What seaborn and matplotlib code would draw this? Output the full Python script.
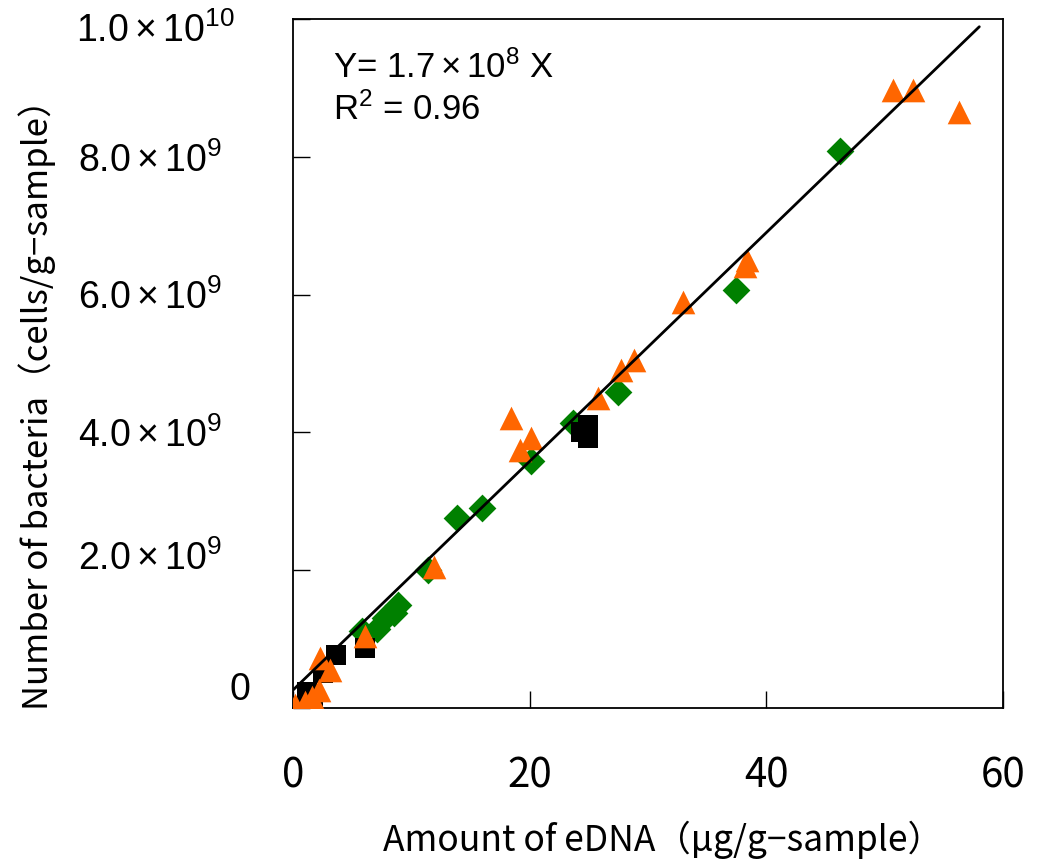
import matplotlib
matplotlib.use('Agg')
import matplotlib.pyplot as plt
import matplotlib.transforms as mtransforms
import seaborn as sns
import numpy as np
import pandas as pd

# eDNA (ug/g-sample) vs bacteria (cells/g-sample), three sample groups
tri_x = [52.4, 50.7, 56.3, 38.4, 38.2, 33.0, 28.8, 27.7, 25.8, 18.4, 20.1, 19.2,
         11.9, 6.1, 2.3, 3.1, 2.2, 1.6, 1.0, 0.2]
tri_y = [8.97e9, 8.97e9, 8.65e9, 6.50e9, 6.41e9, 5.89e9, 5.05e9, 4.91e9, 4.50e9,
         4.21e9, 3.92e9, 3.74e9, 2.05e9, 1.05e9, 0.73e9, 0.55e9, 0.26e9, 0.16e9,
         0.09e9, 0.04e9]

dia_x = [46.2, 37.4, 27.5, 23.7, 20.1, 16.0, 13.9, 11.4, 8.9, 8.5, 7.8, 7.1, 5.8]
dia_y = [8.09e9, 6.07e9, 4.59e9, 4.13e9, 3.58e9, 2.91e9, 2.76e9, 2.01e9, 1.50e9,
         1.38e9, 1.30e9, 1.15e9, 1.12e9]

sq_x = [24.9, 24.3, 24.9, 3.6, 2.5, 6.1, 0.0, 1.7, 1.2]
sq_y = [4.11e9, 4.01e9, 3.92e9, 0.77e9, 0.51e9, 0.87e9, 0.02e9, 0.09e9, 0.23e9]

fit_slope = 1.66e8
fit_intercept = 2.6e8
fit_range = [0, 58]

x_ticks = [0, 20, 40, 60]
y_ticks = [0, 2e9, 4e9, 6e9, 8e9, 1e10]
y_tick_labels = ['0',
                 r'$\mathregular{2.0\times10^{9}}$',
                 r'$\mathregular{4.0\times10^{9}}$',
                 r'$\mathregular{6.0\times10^{9}}$',
                 r'$\mathregular{8.0\times10^{9}}$',
                 r'$\mathregular{1.0\times10^{10}}$']

sns.set_theme(style='white')
plt.rcParams['font.family'] = ['Liberation Sans', 'DejaVu Sans']
plt.rcParams['mathtext.fontset'] = 'custom'
plt.rcParams['mathtext.rm'] = 'Liberation Sans'
plt.rcParams['mathtext.it'] = 'Liberation Sans:italic'
plt.rcParams['mathtext.bf'] = 'Liberation Sans:bold'
plt.rcParams['text.color'] = 'black'
plt.rcParams['xtick.color'] = 'black'
plt.rcParams['ytick.color'] = 'black'
plt.rcParams['axes.labelcolor'] = 'black'

cjk = ['Noto Sans CJK JP', 'DejaVu Sans']

df_dia = pd.DataFrame({'x': dia_x, 'y': dia_y})
df_sq = pd.DataFrame({'x': sq_x, 'y': sq_y})
df_tri = pd.DataFrame({'x': tri_x, 'y': tri_y})
fit_x = np.array(fit_range, dtype=float)
df_fit = pd.DataFrame({'x': fit_x, 'y': fit_slope * fit_x + fit_intercept})

fig = plt.figure(figsize=(10.4, 8.61), dpi=100)
ax = fig.add_axes([0.2817, 0.1777, 0.6827, 0.8002])

sns.scatterplot(data=df_dia, x='x', y='y', marker='D', color='#008000', s=200,
                linewidth=0, ax=ax, zorder=3)
sns.scatterplot(data=df_sq, x='x', y='y', marker='s', color='black', s=200,
                linewidth=0, ax=ax, zorder=4)
sns.scatterplot(data=df_tri, x='x', y='y', marker='^', color='#FF6600', s=290,
                linewidth=0, ax=ax, zorder=5)
sns.lineplot(data=df_fit, x='x', y='y', color='black', linewidth=2, ax=ax, zorder=6)

ax.set_xlim(0, 60)
ax.set_ylim(0, 1e10)
ax.set_xticks(x_ticks)
ax.set_xticklabels([str(t) for t in x_ticks], family=cjk, fontsize=29)
ax.set_yticks(y_ticks)
ax.set_yticklabels(y_tick_labels, fontsize=27)

ax.tick_params(axis='x', direction='in', length=12, width=1, pad=34, top=False, bottom=True)
ax.tick_params(axis='y', direction='in', length=12, width=1, pad=51, left=True, right=False)
for side in ['left', 'right', 'top', 'bottom']:
    ax.spines[side].set_color('black')
    ax.spines[side].set_linewidth(1.3)

# the reference nudges a few y tick labels away from their ticks
label_shift_px = {0: (28, 22), 1: (0, 15), 5: (13, -8)}
for i, lab in enumerate(ax.get_yticklabels()):
    if i in label_shift_px:
        dx, dy = label_shift_px[i]
        lab.set_transform(lab.get_transform() +
                          mtransforms.ScaledTranslation(dx / 100, dy / 100, fig.dpi_scale_trans))

ax.set_xlabel('Amount of eDNA（μg/g−sample）', family=cjk, fontsize=25.5)
ax.xaxis.set_label_coords(0.521, -0.163)
ax.set_ylabel('Number of bacteria（cells/g−sample）', family=cjk, fontsize=25)
ax.yaxis.set_label_coords(-0.334, 0.452)

ax.text(0.056, 0.93, r'Y= $\mathregular{1.7\times10^{8}}$ X', transform=ax.transAxes,
        fontsize=25, va='center', ha='left')
ax.text(0.056, 0.868, r'R$^{2}$ = 0.96', transform=ax.transAxes, fontsize=25,
        va='center', ha='left')

fig.savefig('out.png', dpi=100)
plt.close(fig)
